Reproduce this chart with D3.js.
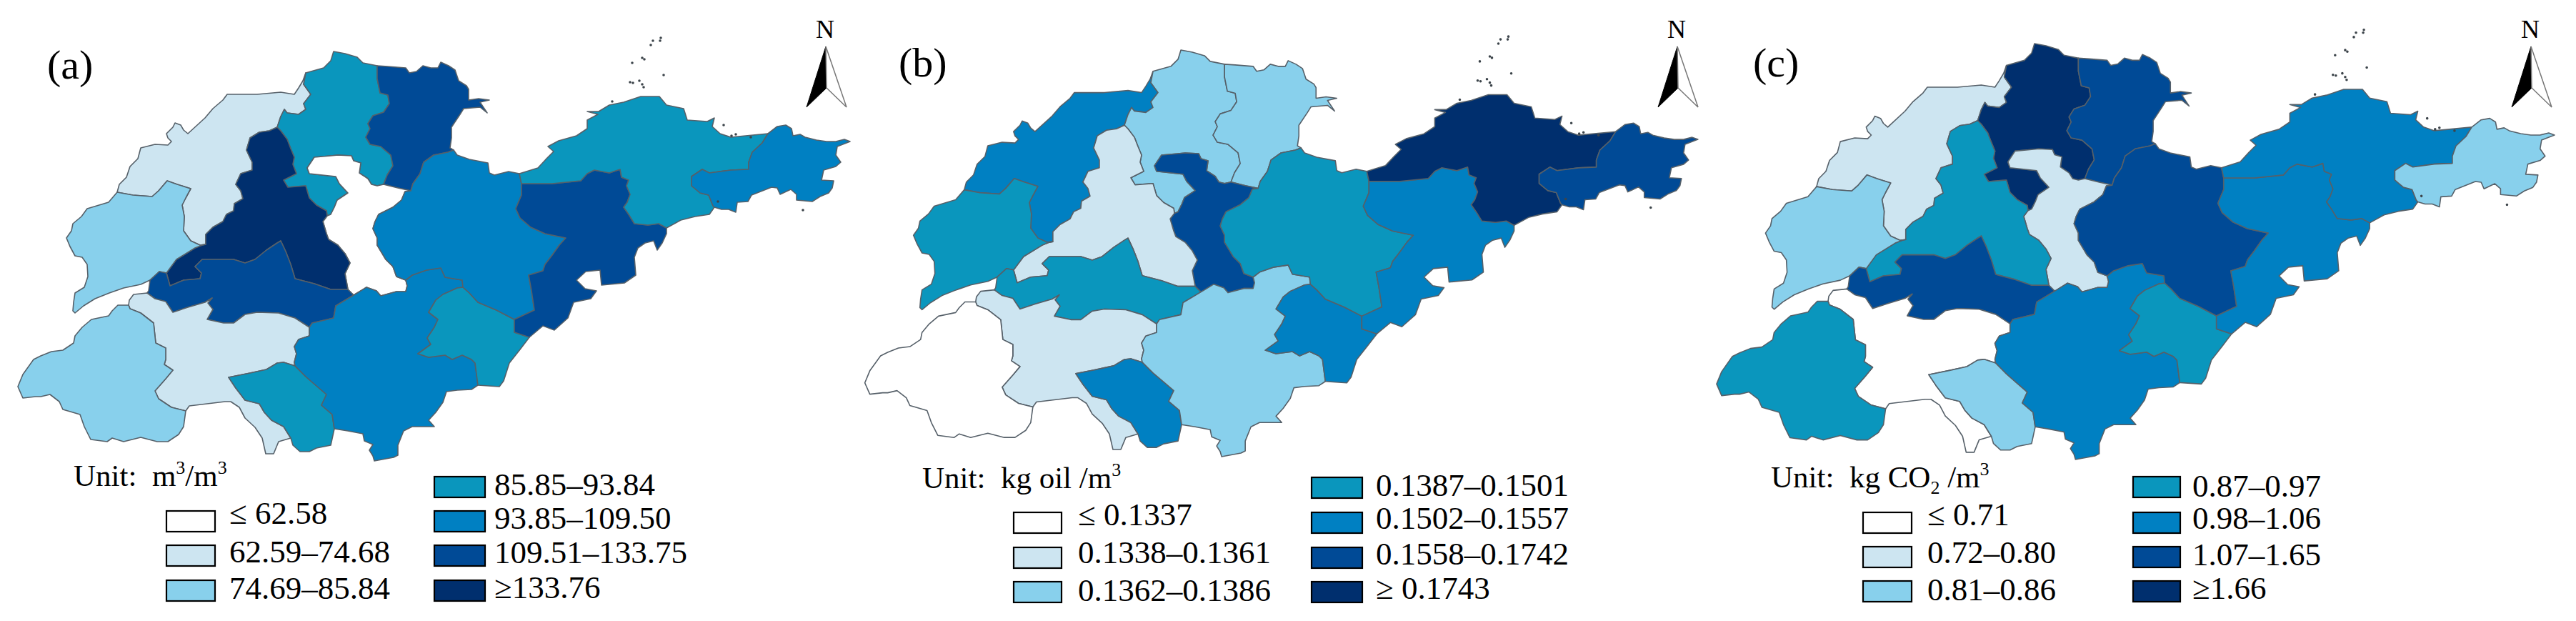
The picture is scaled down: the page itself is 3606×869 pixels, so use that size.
<!DOCTYPE html>
<html><head><meta charset="utf-8">
<script src="https://cdn.jsdelivr.net/npm/d3@7"></script>
<style>html,body{margin:0;background:#fff}svg{display:block}text{font-family:"Liberation Serif","Times New Roman",serif;fill:#000}</style>
</head><body><svg id="c" width="3606" height="869"></svg>
<script>
// ---- categories and class labels ----
const regionNames=["Dezhou","Binzhou","Dongying","Zibo","Jinan","Liaocheng","Taian","Jining","Heze","Zaozhuang","Linyi","Rizhao","Weifang","Qingdao","Yantai","Weihai"];
const classColors=["#ffffff","#cde5f1","#88d0ec","#0a96bd","#0080c2","#004a96","#002f6e"];
const classesA=[1,3,5,0,6,2,5,1,2,3,4,3,4,5,3,4];
const classesB=[4,2,2,5,1,3,3,1,0,4,2,4,3,4,6,5];
const classesC=[1,6,5,1,3,2,5,0,3,2,4,3,5,4,4,2];
const labelsA=["≤ 62.58","62.59–74.68","74.69–85.84","85.85–93.84","93.85–109.50","109.51–133.75","≥133.76"];
const labelsB=["≤ 0.1337","0.1338–0.1361","0.1362–0.1386","0.1387–0.1501","0.1502–0.1557","0.1558–0.1742","≥ 0.1743"];
const labelsC=["≤ 0.71","0.72–0.80","0.81–0.86","0.87–0.97","0.98–1.06","1.07–1.65","≥1.66"];

// ---- map geometry: shared border arcs ----
const dz_north=[[428,102],[424,113],[418,123],[412,132],[393,129],[360,132],[318,132],[312,140],[298,152],[287,165],[263,187],[257,182],[253,175],[245,172],[242,178],[233,187],[235,193],[240,198],[235,203],[217,202],[197,207],[193,222],[182,233],[177,248],[167,258],[164,269]];
const dz_lc=[[164,269],[186,273],[213,275],[222,267],[234,253],[248,258],[267,264],[260,277],[255,287],[258,303],[257,323],[267,337],[280,343],[288,342]];
const dz_jn=[[288,342],[288,328],[298,318],[312,310],[317,300],[327,295],[328,285],[340,278],[337,267],[330,258],[337,243],[353,238],[353,227],[345,210],[350,193],[363,185],[377,183],[388,178]];
const dz_bz=[[388,178],[393,163],[398,153],[402,158],[418,160],[428,153],[425,145],[435,132],[425,118],[428,102]];
const bz_north=[[428,102],[453,95],[463,85],[467,72],[483,75],[500,80],[508,88],[528,92]];
const bz_dy=[[528,92],[528,110],[532,130],[543,133],[545,145],[537,157],[522,162],[515,173],[518,180],[512,192],[518,202],[533,205],[547,217],[550,232],[542,245],[537,258]];
const dy_north=[[528,92],[543,93],[568,95],[573,102],[583,100],[592,92],[603,95],[613,95],[617,87],[628,92],[637,98],[642,113],[653,120],[656,125],[656,140],[670,138],[685,140],[672,143],[682,158],[672,150],[649,152],[644,160],[632,178],[632,193],[630,207],[635,210]];
const dy_wf=[[635,210],[627,213],[607,217],[593,227],[588,243],[578,257],[575,267]];
const dy_zb=[[575,267],[557,263],[537,258]];
const zb_wf=[[575,267],[567,268],[562,280],[550,290],[530,300],[525,310],[522,320],[528,333],[528,343],[540,363],[550,373],[555,387],[568,392]];
const zb_ly=[[568,392],[570,400],[568,408],[555,408],[533,414],[527,407],[513,402],[500,410],[495,413]];
const zb_ta=[[495,413],[487,405]];
const zb_jn=[[487,405],[483,383],[490,368],[483,355],[473,343],[460,335],[457,327],[452,310],[458,302]];
const zb_bz=[[458,302],[463,300],[468,290],[472,280],[487,270],[475,257],[470,247],[433,243],[430,235],[440,220],[463,218],[473,217],[492,218],[495,225],[505,228],[503,242],[515,250],[520,258],[528,260],[537,258]];
const jn_bz=[[388,178],[393,183],[402,195],[407,208],[412,220],[410,230],[415,243],[397,252],[403,262],[428,260],[433,277],[443,287],[457,295],[458,302]];
const jn_ta=[[233,382],[238,400],[257,392],[280,390],[282,382],[273,373],[283,363],[307,363],[327,363],[343,368],[357,363],[373,350],[388,340],[393,337],[400,352],[407,370],[413,390],[440,397],[463,405],[487,405]];
const jn_lc=[[233,382],[247,363],[273,347],[283,343],[288,342]];
const lc_west=[[164,269],[152,283],[122,292],[114,303],[102,313],[100,323],[93,333],[98,345],[105,358],[115,360],[122,370],[123,387],[118,402],[105,410],[103,423],[102,435],[105,438],[117,428],[133,418],[153,410],[173,403],[197,398],[210,392]];
const ta_lc=[[210,392],[223,380],[233,382]];
const ta_gap=[[210,392],[208,407],[206,410]];
const ta_jg=[[206,410],[217,418],[232,422],[242,437],[263,430],[287,423],[297,417],[291,424],[298,433],[290,447],[313,452],[327,452],[343,440],[360,437],[390,438],[413,445],[433,458]];
const ta_ly=[[433,458],[437,452],[467,445],[470,428],[495,413]];
const jg_ly=[[433,458],[433,470],[418,475],[412,485],[415,495],[412,507],[413,512]];
const jg_zz=[[413,512],[397,507],[388,508],[373,517],[350,522],[320,528]];
const zz_jg2=[[320,528],[330,543],[343,560],[363,565],[370,577],[380,588],[397,597],[407,613]];
const zz_south=[[407,613],[410,623],[420,632],[433,632],[443,627],[463,623],[468,600]];
const zz_ly=[[413,512],[428,527],[443,540],[457,552],[450,567],[465,580],[468,600]];
const jg_south=[[260,575],[265,568],[290,565],[315,562],[323,562],[335,570],[343,585],[357,598],[367,613],[372,635],[383,635],[390,618],[407,613]];
const jg_coast=[[206,410],[187,412],[181,420],[180,427]];
const hz_jg=[[180,427],[182,432],[197,438],[215,452],[218,480],[232,487],[232,503],[230,510],[242,518],[232,530],[217,547],[222,558],[240,570],[260,575]];
const hz_outer=[[180,427],[165,427],[157,435],[152,442],[128,447],[115,458],[105,470],[103,480],[88,490],[72,492],[57,498],[47,503],[32,524],[25,541],[32,557],[50,555],[57,555],[70,552],[83,562],[88,573],[95,575],[112,580],[118,597],[127,615],[150,618],[157,613],[173,618],[197,612],[220,618],[235,618],[250,608],[257,597],[260,575]];
const wf_ly=[[568,392],[577,385],[597,378],[617,375],[623,388],[647,392],[648,402]];
const rz_ly=[[648,402],[640,403],[620,412],[610,420],[600,437],[613,447],[608,458],[598,473],[603,482],[585,495],[600,500],[623,497],[633,503],[647,497],[660,503],[665,508],[669,539]];
const ly_coast=[[669,539],[660,545],[640,546],[625,548],[620,563],[610,577],[600,588],[608,597],[577,597],[565,603],[557,623],[557,637],[551,640],[524,645],[522,638],[517,630],[522,622],[510,617],[508,607],[487,603],[468,600]];
const rz_wf=[[648,402],[657,410],[669,423],[695,434],[720,447]];
const rz_qd=[[720,447],[720,465],[741,472]];
const rz_coast=[[741,472],[728,489],[713,508],[705,533],[699,541],[669,539]];
const wf_coast=[[635,210],[640,217],[657,223],[683,228],[685,242],[692,245],[712,240],[727,243]];
const wf_yt=[[727,243],[730,257]];
const wf_qd=[[730,257],[730,273],[722,292],[728,305],[743,318],[763,327],[792,333],[783,343],[773,357],[763,370],[760,379],[740,385],[744,407],[748,434],[720,447]];
const yt_qd=[[730,257],[773,257],[813,253],[822,243],[832,238],[853,242],[868,237],[870,248],[880,252],[877,260],[882,272],[878,283],[873,290],[880,300],[888,313],[907,315],[922,313],[933,319]];
const qd_coast=[[933,319],[933,327],[927,340],[920,350],[915,337],[903,340],[893,347],[888,360],[890,385],[874,396],[842,399],[840,378],[820,380],[807,392],[819,404],[835,407],[827,418],[803,423],[795,445],[776,462],[760,456],[741,472]];
const yt_north=[[727,243],[753,235],[765,222],[775,212],[767,205],[782,197],[807,190],[822,180],[822,168],[837,160],[822,156],[838,156],[853,147],[873,143],[897,135],[923,135],[933,147],[957,152],[962,168],[990,170],[1000,165],[997,177],[1008,187],[1023,192],[1075,187]];
const yt_wh=[[1075,187],[1067,200],[1053,213],[1048,227],[1048,237],[1023,238],[993,242],[983,237],[968,247],[968,260],[980,270],[992,273],[998,288],[1000,290]];
const yt_south=[[933,319],[953,308],[973,303],[993,300],[1000,290]];
const wh_outer=[[1075,187],[1088,177],[1100,175],[1108,180],[1110,190],[1120,188],[1127,192],[1143,196],[1157,198],[1170,198],[1182,195],[1190,198],[1172,205],[1170,217],[1177,227],[1170,233],[1153,238],[1150,252],[1167,253],[1165,263],[1160,270],[1148,275],[1137,282],[1115,280],[1115,272],[1107,265],[1092,272],[1088,263],[1080,262],[1052,273],[1047,282],[1032,283],[1030,297],[1020,293],[1010,293],[1000,290]];
const islands=[[902,83],[899,81],[885,88],[929,105],[882,115],[886,116],[895,113],[899,118],[901,122],[857,142],[925,53],[924,57],[911,63],[914,57],[1013,175],[1030,188],[1024,190],[1051,192],[1005,282],[1124,294]];

const rev=a=>a.slice().reverse();
const ring=(...arcs)=>arcs.flat();
const rings={
 Dezhou:ring(dz_north,dz_lc,dz_jn,dz_bz),
 Binzhou:ring(bz_north,bz_dy,rev(zb_bz),rev(jn_bz),dz_bz),
 Dongying:ring(dy_north,dy_wf,dy_zb,rev(bz_dy)),
 Zibo:ring(rev(dy_zb),zb_wf,zb_ly,zb_ta,zb_jn,zb_bz),
 Jinan:ring(jn_bz,rev(zb_jn),rev(jn_ta),jn_lc,dz_jn),
 Liaocheng:ring(lc_west,ta_lc,jn_lc,rev(dz_lc)),
 Taian:ring(rev(ta_lc),ta_gap,ta_jg,ta_ly,zb_ta,rev(jn_ta)),
 Jining:ring(ta_jg,jg_ly,jg_zz,zz_jg2,rev(jg_south),rev(hz_jg),rev(jg_coast)),
 Heze:ring(hz_outer,rev(hz_jg)),
 Zaozhuang:ring(rev(jg_zz),zz_ly,rev(zz_south),rev(zz_jg2)),
 Linyi:ring(wf_ly,rz_ly,ly_coast,rev(zz_ly),rev(jg_ly),ta_ly,rev(zb_ly)),
 Rizhao:ring(rz_wf,rz_qd,rz_coast,rev(rz_ly)),
 Weifang:ring(wf_coast,wf_yt,wf_qd,rev(rz_wf),rev(wf_ly),rev(zb_wf),rev(dy_wf)),
 Qingdao:ring(yt_qd,qd_coast,rev(rz_qd),rev(wf_qd)),
 Yantai:ring(yt_north,yt_wh,rev(yt_south),rev(yt_qd),rev(wf_yt)),
 Weihai:ring(wh_outer,rev(yt_wh))
};

// ---- panels: placement only ----
const panels=[
 {tag:"(a)",tx:66,ty:110,classes:classesA,labels:labelsA,
  sx:1,sy:1,dx:0,dy:0,arrowDx:0,unitX:103,unitY:680,unit:[["Unit:  m"],["3","sup"],["/m"],["3","sup"]],
  c1:[233,68],c2:[608,71],t1:321,t2:692,rowsY:[715,763,812],rows2Y:[667,715,763,812],base1:[733,787,838],base2:[693,740,788,837]},
 {tag:"(b)",tx:1258,ty:107,classes:classesB,labels:labelsB,
  sx:1.001,sy:0.993,dx:1185.6,dy:-1.5,arrowDx:1192,unitX:1291,unitY:683,unit:[["Unit:  kg oil /m"],["3","sup"]],
  c1:[1419,67],c2:[1836,71],t1:1509,t2:1926,rowsY:[717,766,814],rows2Y:[668,717,766,814],base1:[735,788,841],base2:[694,740,790,838]},
 {tag:"(c)",tx:2454,ty:107,classes:classesC,labels:labelsC,
  sx:1.0068,sy:1.0157,dx:2377.8,dy:-12.1,arrowDx:2387,unitX:2479,unitY:682,unit:[["Unit:  kg CO"],["2","sub"],[" /m"],["3","sup"]],
  c1:[2608,68],c2:[2986,66],t1:2698,t2:3069,rowsY:[717,765,813],rows2Y:[667,717,765,813],base1:[735,788,840],base2:[695,740,791,838]}
];

const svg=d3.select("#c");
const FS=45;
panels.forEach(p=>{
 const g=svg.append("g");
 const tf=d3.geoTransform({point(x,y){this.stream.point(x*p.sx+p.dx,y*p.sy+p.dy);}});
 const path=d3.geoPath(tf).pointRadius(1.8);
 const features=regionNames.map((n,i)=>({type:"Feature",properties:{name:n,cls:p.classes[i]},geometry:{type:"Polygon",coordinates:[rings[n].concat([rings[n][0]])]}}));
 g.selectAll("path.r").data(features).join("path").attr("class","r").attr("d",path)
  .attr("fill",d=>classColors[d.properties.cls]).attr("stroke","#566069").attr("stroke-width",1.6).attr("stroke-linejoin","round");
 g.append("path").datum({type:"MultiPoint",coordinates:islands}).attr("d",path).attr("fill","#3c444a");
 // panel tag
 g.append("text").attr("x",p.tx).attr("y",p.ty).attr("font-size",58).text(p.tag);
 // north arrow
 const a=p.arrowDx;
 const line=d3.line();
 g.append("text").attr("x",1155+a).attr("y",53).attr("text-anchor","middle").attr("font-size",36).text("N");
 g.append("path").attr("d",line([[1156+a,65],[1129+a,150],[1157+a,123]])+"Z").attr("fill","#000").attr("stroke","#000").attr("stroke-width",1);
 g.append("path").attr("d",line([[1156+a,65],[1185+a,150],[1157+a,123]])+"Z").attr("fill","#fff").attr("stroke","#777").attr("stroke-width",1.5);
 // legend
 const u=g.append("text").attr("x",p.unitX).attr("y",p.unitY).attr("font-size",FS-2).attr("xml:space","preserve").style("white-space","pre");
 p.unit.forEach(([t,k])=>{
  const s=u.append("tspan").text(t);
  if(k==="sup")s.attr("font-size",26).attr("dy",-17);
  else if(k==="sub")s.attr("font-size",26).attr("dy",9);
  else s.attr("dy",u.selectAll("tspan").size()>1?(u.selectAll("tspan").nodes().slice(-2)[0].textContent.length===1?(u.selectAll("tspan").nodes().slice(-2)[0].getAttribute("dy")==="9"?-9:17):0):0);
 });
 const items=p.labels.map((l,i)=>i<3?{l,i,x:p.c1[0],w:p.c1[1],y:p.rowsY[i],tx:p.t1,by:p.base1[i]}:{l,i,x:p.c2[0],w:p.c2[1],y:p.rows2Y[i-3],tx:p.t2,by:p.base2[i-3]});
 g.selectAll("rect").data(items).join("rect").attr("x",d=>d.x).attr("y",d=>d.y).attr("width",d=>d.w).attr("height",29)
  .attr("fill",d=>classColors[d.i]).attr("stroke","#000").attr("stroke-width",2.2);
 g.selectAll("text.l").data(items).join("text").attr("class","l").attr("x",d=>d.tx).attr("y",d=>d.by).attr("font-size",FS).text(d=>d.l);
});
</script></body></html>
